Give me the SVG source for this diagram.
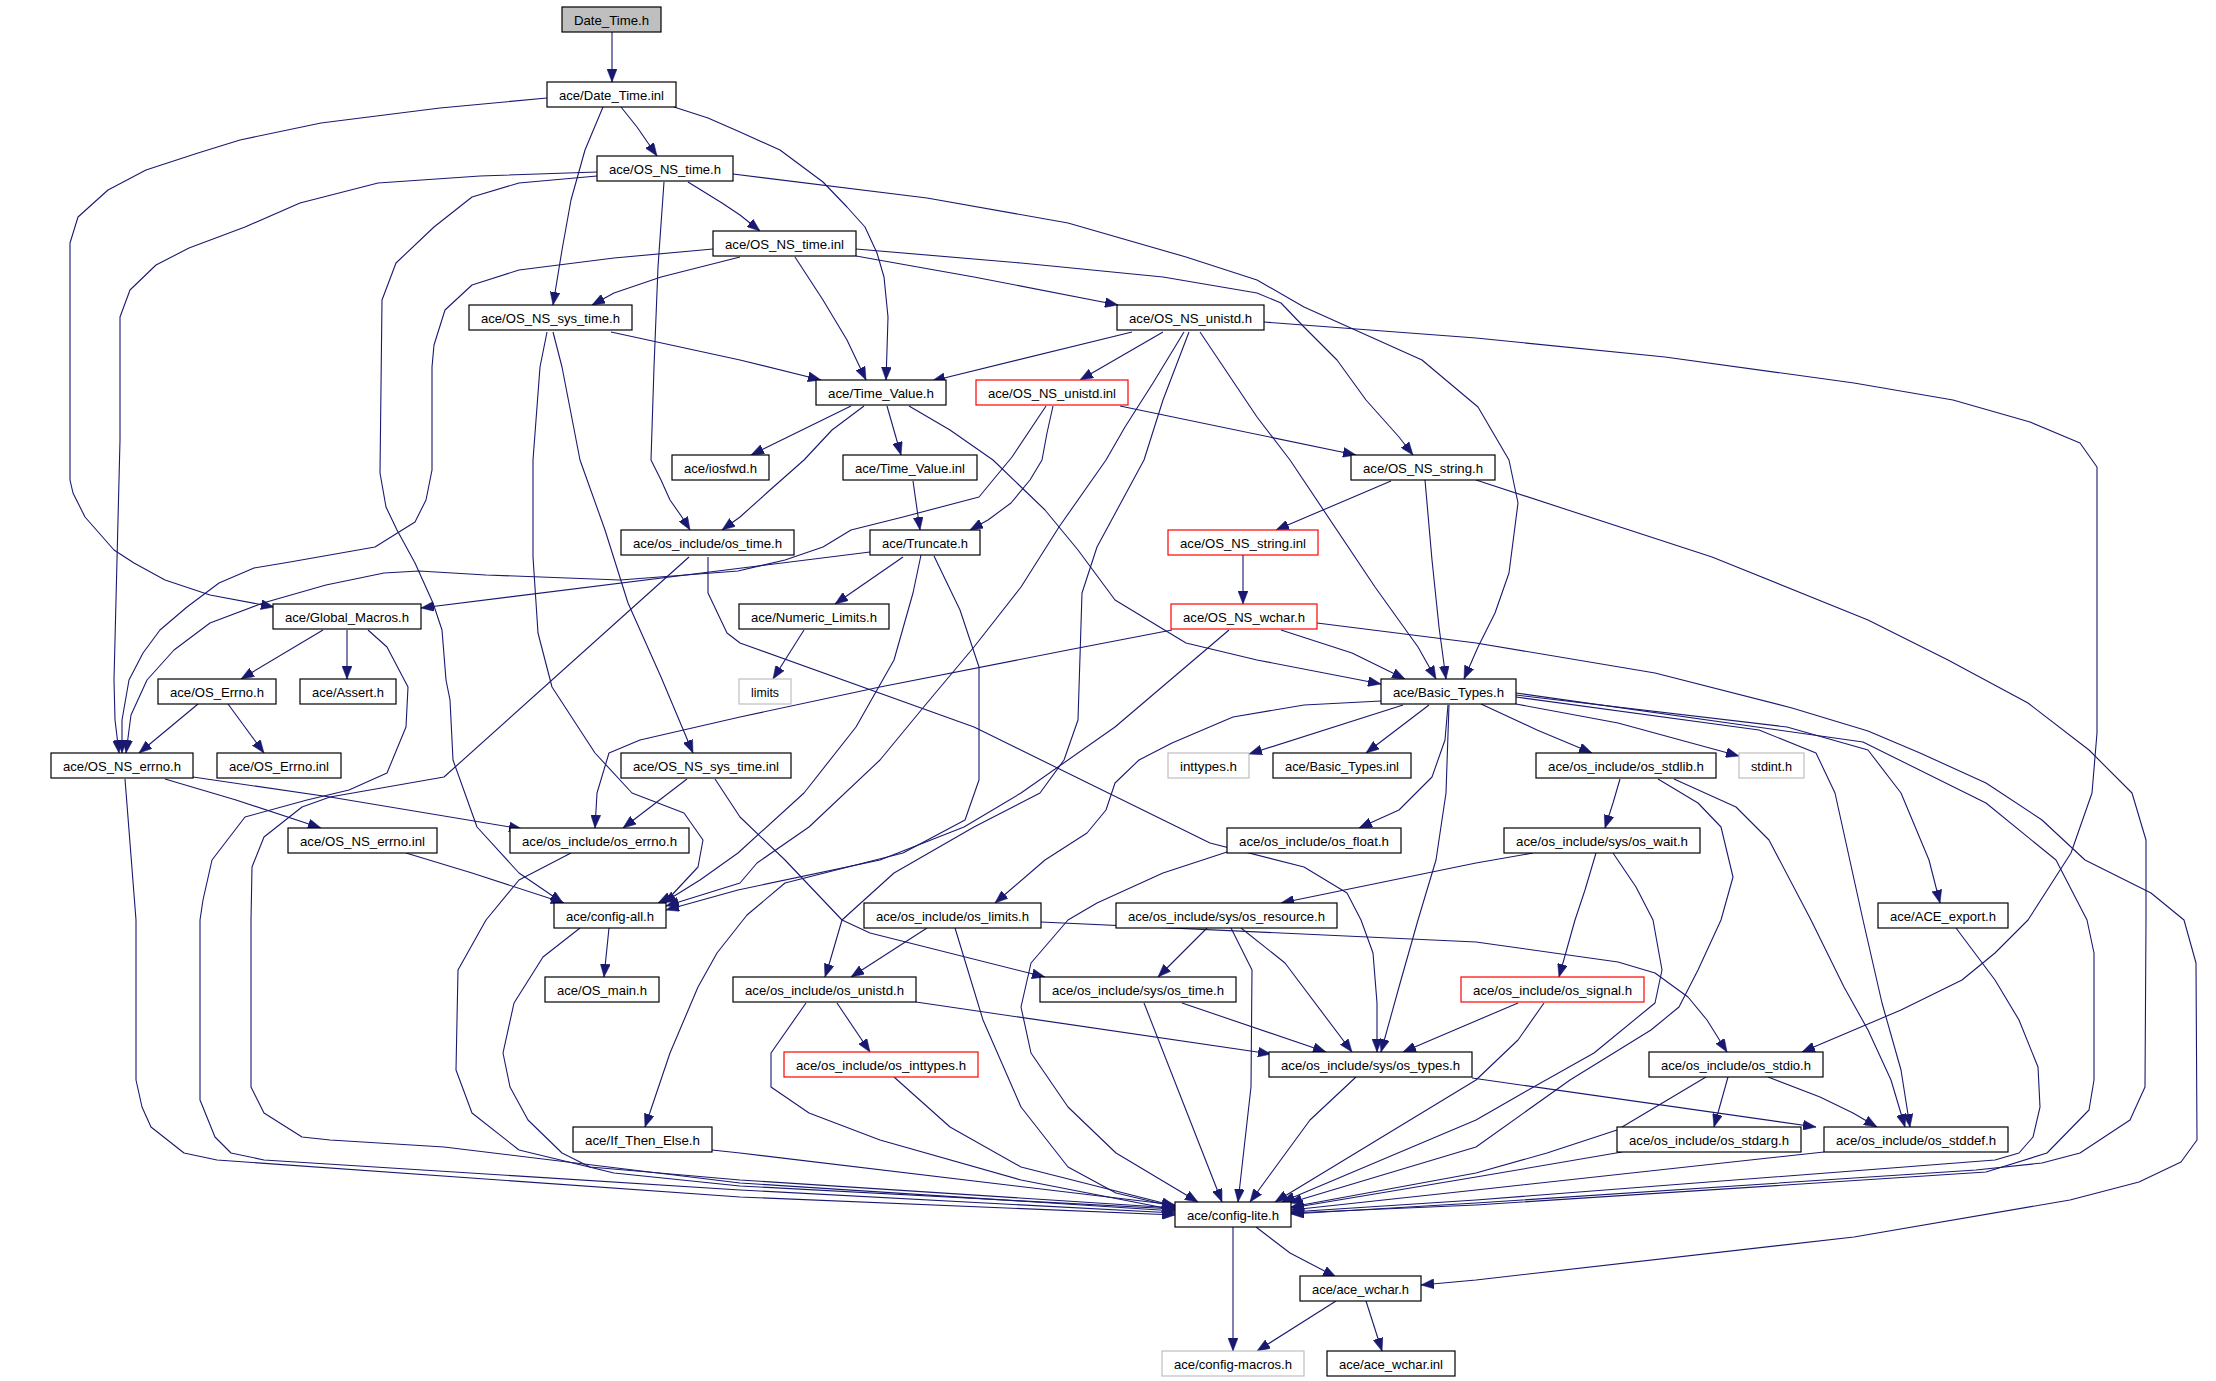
<svg xmlns="http://www.w3.org/2000/svg" width="2216" height="1381" viewBox="0 0 2216 1381">
<defs>
<style>
.node rect{fill:#ffffff;stroke:#000000;stroke-width:1.2}
.node.red rect{stroke:#ff0000}
.node.grey rect{stroke:#bfbfbf}
.node.root rect{fill:#bfbfbf}
.node text{font-family:"Liberation Sans",Arial,sans-serif;font-size:13px;fill:#000000;text-anchor:middle}
#edges path{fill:none;stroke:#191970;stroke-width:1.1;stroke-linejoin:round;marker-end:url(#arr)}
</style>
<marker id="arr" markerUnits="userSpaceOnUse" viewBox="0 0 13 10" markerWidth="13" markerHeight="10" refX="13" refY="5" orient="auto">
<path d="M0,0 L13,5 L0,10 z" fill="#191970" stroke="#191970" stroke-width="0.5"/>
</marker>
</defs>
<rect x="0" y="0" width="2216" height="1381" fill="#ffffff"/>
<g id="edges">
<path d="M612,32 L612,82"/>
<path d="M547,98 L440,108 L321,123 L240,140 L198,153 L146,170 L108,190 L78,217 L70,243 L70,480 L73,493 L85,517 L114,550 L134,563 L165,580 L210,595 L274,607"/>
<path d="M603,107 L585,150 L571,200 L562,250 L553,305"/>
<path d="M621,107 L637,127 L657,156"/>
<path d="M674,107 L708,118 L740,132 L780,150 L823,182 L847,207 L865,227 L877,253 L884,277 L888,317 L887,350 L886,380"/>
<path d="M688,182 L722,203 L740,215 L760,231"/>
<path d="M597,172 L480,176 L378,183 L300,203 L245,227 L189,248 L156,265 L130,290 L120,317 L120,440 L114,680 L115,720 L119,753"/>
<path d="M597,176 L519,183 L472,197 L434,227 L396,263 L382,300 L380,473 L386,507 L397,530 L415,563 L433,603 L442,630 L446,680 L450,700 L453,760 L477,827 L519,873 L563,903"/>
<path d="M664,182 L658,267 L654,367 L651,460 L661,480 L670,500 L684,520 L690,530"/>
<path d="M733,174 L927,198 L1068,223 L1186,257 L1257,280 L1304,307 L1422,360 L1478,407 L1509,460 L1518,503 L1509,573 L1495,613 L1478,647 L1464,679"/>
<path d="M740,257 L661,277 L614,293 L592,305"/>
<path d="M713,249 L614,258 L519,270 L472,285 L445,310 L434,345 L432,367 L432,470 L426,500 L415,522 L375,547 L290,562 L254,568 L219,583 L187,607 L160,630 L143,653 L129,680 L122,720 L122,753"/>
<path d="M795,257 L823,300 L847,340 L866,380"/>
<path d="M856,256 L974,277 L1118,305"/>
<path d="M856,249 L1021,263 L1163,277 L1257,293 L1281,303 L1304,327 L1337,360 L1366,400 L1399,437 L1413,455"/>
<path d="M611,332 L740,360 L821,380"/>
<path d="M553,332 L562,367 L580,460 L605,530 L628,603 L661,677 L693,753"/>
<path d="M547,332 L540,367 L533,460 L533,557 L538,633 L552,687 L595,753 L632,793 L684,813 L703,840 L698,867 L670,897 L658,903"/>
<path d="M1132,332 L932,381"/>
<path d="M1163,332 L1080,380"/>
<path d="M1184,332 L1153,383 L1125,427 L1106,460 L1059,527 L1021,587 L974,647 L927,703 L880,760 L809,827 L757,863 L740,883 L666,906"/>
<path d="M1189,332 L1163,400 L1144,460 L1097,547 L1082,593 L1078,720 L1064,760 L1040,793 L974,827 L894,873 L842,920 L828,968 L825,977"/>
<path d="M1200,332 L1257,417 L1290,460 L1375,587 L1418,647 L1436,679"/>
<path d="M1264,322 L1476,338 L1665,357 L1854,383 L1953,400 L2030,422 L2080,443 L2097,467 L2097,733 L2092,793 L2071,853 L2028,920 L1995,953 L1962,980 L1901,1010 L1802,1052"/>
<path d="M851,406 L751,455"/>
<path d="M864,406 L832,430 L804,460 L770,490 L740,517 L722,530"/>
<path d="M887,406 L901,455"/>
<path d="M909,406 L950,430 L993,460 L1045,510 L1078,550 L1115,600 L1186,643 L1257,660 L1381,684"/>
<path d="M1120,406 L1356,455"/>
<path d="M1053,406 L1047,433 L1042,460 L1030,480 L1011,503 L988,520 L970,530"/>
<path d="M1046,406 L1012,457 L979,497 L903,517 L851,530 L823,547 L785,560 L738,571 L620,580 L486,575 L419,571 L384,573 L326,585 L263,603 L210,623 L174,650 L147,680 L131,715 L126,753"/>
<path d="M913,481 L920,530"/>
<path d="M1391,481 L1276,530"/>
<path d="M1425,480 L1432,560 L1439,627 L1446,679"/>
<path d="M1476,480 L1712,557 L1868,620 L1948,660 L2028,703 L2089,750 L2132,793 L2146,840 L2146,920 L2145,1087 L2130,1120 L2080,1153 L2042,1163 L1976,1170 L1476,1203 L1291,1214"/>
<path d="M870,552 L421,608"/>
<path d="M903,557 L835,604"/>
<path d="M921,555 L913,593 L894,660 L856,727 L804,793 L738,853 L700,880 L663,903"/>
<path d="M934,556 L960,610 L979,667 L979,780 L965,820 L903,853 L785,883 L747,915 L717,953 L698,987 L670,1053 L645,1127"/>
<path d="M1243,555 L1243,604"/>
<path d="M804,630 L773,679"/>
<path d="M323,630 L241,679"/>
<path d="M347,630 L347,679"/>
<path d="M368,630 L387,647 L408,687 L406,727 L387,773 L349,790 L307,800 L245,817 L212,860 L203,900 L200,920 L200,1100 L215,1137 L231,1153 L264,1160 L740,1190 L1175,1213"/>
<path d="M1172,630 L1068,650 L880,687 L740,717 L640,740 L609,753 L597,793 L595,828"/>
<path d="M1229,630 L1115,727 L1021,793 L964,827 L880,860 L738,890 L666,910"/>
<path d="M1281,630 L1352,653 L1405,679"/>
<path d="M1317,623 L1476,643 L1655,673 L1792,708 L1868,731 L1920,753 L1986,783 L2042,820 L2085,860 L2151,893 L2184,920 L2196,963 L2197,1140 L2181,1162 L2139,1182 L2070,1200 L1854,1237 L1476,1280 L1421,1285"/>
<path d="M198,704 L139,753"/>
<path d="M228,704 L264,753"/>
<path d="M165,779 L236,800 L321,828"/>
<path d="M193,777 L330,797 L522,829"/>
<path d="M125,779 L136,920 L136,1080 L142,1107 L151,1127 L184,1153 L217,1160 L740,1197 L1175,1215"/>
<path d="M406,853 L472,873 L564,903"/>
<path d="M687,779 L623,828"/>
<path d="M715,779 L740,817 L785,860 L842,920 L870,933 L1045,977"/>
<path d="M689,557 L444,777 L330,797 L302,807 L264,837 L252,867 L251,920 L251,1087 L264,1113 L302,1137 L330,1140 L444,1147 L740,1183 L1175,1211"/>
<path d="M708,557 L708,593 L727,633 L740,643 L974,727 L1210,843 L1304,867 L1347,893 L1361,920 L1373,953 L1377,1003 L1377,1052"/>
<path d="M571,853 L519,880 L486,920 L458,970 L456,1070 L472,1113 L519,1150 L614,1173 L740,1186 L1175,1209"/>
<path d="M609,928 L604,977"/>
<path d="M580,928 L543,957 L514,1003 L503,1053 L510,1087 L528,1120 L562,1153 L590,1167 L740,1180 L1175,1208"/>
<path d="M712,1150 L740,1153 L1175,1205"/>
<path d="M1403,705 L1249,754"/>
<path d="M1429,705 L1366,753"/>
<path d="M1448,705 L1445,740 L1432,777 L1399,810 L1359,828"/>
<path d="M1381,701 L1304,705 L1233,717 L1172,743 L1139,760 L1115,783 L1106,810 L1087,833 L1045,860 L995,903"/>
<path d="M1449,705 L1446,793 L1436,860 L1418,920 L1399,987 L1381,1052"/>
<path d="M1481,704 L1537,730 L1592,753"/>
<path d="M1516,704 L1618,723 L1739,756"/>
<path d="M1516,697 L1759,730 L1816,753 L1835,793 L1863,920 L1882,1003 L1901,1070 L1910,1127"/>
<path d="M1516,695 L1787,727 L1868,750 L1901,793 L1929,860 L1940,903"/>
<path d="M1516,693 L1863,742 L1986,803 L2056,860 L2087,920 L2094,953 L2094,1080 L2089,1110 L2047,1153 L1986,1172 L1476,1205 L1291,1213"/>
<path d="M1620,779 L1613,803 L1605,828"/>
<path d="M1658,779 L1698,803 L1721,827 L1733,877 L1721,920 L1698,970 L1679,1007 L1651,1030 L1570,1080 L1476,1147 L1289,1203"/>
<path d="M1674,779 L1736,807 L1769,840 L1811,920 L1844,987 L1868,1030 L1891,1080 L1905,1127"/>
<path d="M1533,853 L1476,863 L1281,903"/>
<path d="M1596,853 L1585,890 L1575,920 L1559,977"/>
<path d="M1613,853 L1636,887 L1653,920 L1662,970 L1655,1003 L1594,1053 L1523,1093 L1476,1120 L1282,1202"/>
<path d="M1227,852 L1163,873 L1097,903 L1068,920 L1031,963 L1021,1007 L1031,1053 L1068,1107 L1116,1153 L1198,1202"/>
<path d="M927,928 L851,977"/>
<path d="M1041,922 L1476,942 L1618,962 L1655,973 L1688,997 L1707,1020 L1727,1052"/>
<path d="M955,928 L983,1020 L1021,1107 L1068,1167 L1116,1193 L1175,1207"/>
<path d="M1207,928 L1158,977"/>
<path d="M1231,928 L1252,970 L1251,1087 L1238,1202"/>
<path d="M1241,928 L1285,963 L1352,1052"/>
<path d="M1956,928 L1995,980 L2019,1020 L2038,1067 L2040,1107 L2033,1137 L2019,1153 L1995,1160 L1476,1200 L1291,1212"/>
<path d="M837,1003 L870,1052"/>
<path d="M916,1002 L1271,1054"/>
<path d="M806,1003 L771,1053 L771,1087 L809,1113 L880,1140 L1021,1180 L1175,1210"/>
<path d="M1182,1003 L1326,1052"/>
<path d="M1144,1003 L1222,1202"/>
<path d="M1518,1003 L1478,1020 L1403,1052"/>
<path d="M1544,1003 L1518,1040 L1476,1080 L1275,1202"/>
<path d="M894,1077 L950,1127 L1021,1167 L1175,1206"/>
<path d="M1472,1078 L1816,1127"/>
<path d="M1356,1077 L1310,1120 L1250,1202"/>
<path d="M1728,1077 L1714,1127"/>
<path d="M1768,1077 L1820,1097 L1853,1113 L1877,1127"/>
<path d="M1706,1077 L1617,1130 L1547,1153 L1476,1173 L1291,1207"/>
<path d="M1622,1152 L1476,1177 L1291,1208"/>
<path d="M1824,1152 L1476,1190 L1291,1210"/>
<path d="M1256,1227 L1290,1253 L1336,1277"/>
<path d="M1233,1227 L1233,1351"/>
<path d="M1336,1301 L1257,1351"/>
<path d="M1366,1301 L1382,1351"/>
</g>
<g id="n0" class="node root"><rect x="562" y="7" width="99" height="25"/><text x="611.5" y="24.5" textLength="75" lengthAdjust="spacingAndGlyphs">Date_Time.h</text></g>
<g id="n1" class="node"><rect x="547" y="82" width="129" height="25"/><text x="611.5" y="99.5" textLength="105" lengthAdjust="spacingAndGlyphs">ace/Date_Time.inl</text></g>
<g id="n2" class="node"><rect x="597" y="156" width="136" height="25"/><text x="665" y="173.5" textLength="112" lengthAdjust="spacingAndGlyphs">ace/OS_NS_time.h</text></g>
<g id="n3" class="node"><rect x="713" y="231" width="143" height="25"/><text x="784.5" y="248.5" textLength="119" lengthAdjust="spacingAndGlyphs">ace/OS_NS_time.inl</text></g>
<g id="n4" class="node"><rect x="469" y="305" width="163" height="25"/><text x="550.5" y="322.5" textLength="139" lengthAdjust="spacingAndGlyphs">ace/OS_NS_sys_time.h</text></g>
<g id="n5" class="node"><rect x="1117" y="305" width="147" height="25"/><text x="1190.5" y="322.5" textLength="123" lengthAdjust="spacingAndGlyphs">ace/OS_NS_unistd.h</text></g>
<g id="n6" class="node"><rect x="816" y="380" width="130" height="25"/><text x="881" y="397.5" textLength="106" lengthAdjust="spacingAndGlyphs">ace/Time_Value.h</text></g>
<g id="n7" class="node red"><rect x="976" y="380" width="152" height="25"/><text x="1052" y="397.5" textLength="128" lengthAdjust="spacingAndGlyphs">ace/OS_NS_unistd.inl</text></g>
<g id="n8" class="node"><rect x="672" y="455" width="97" height="25"/><text x="720.5" y="472.5" textLength="73" lengthAdjust="spacingAndGlyphs">ace/iosfwd.h</text></g>
<g id="n9" class="node"><rect x="843" y="455" width="134" height="25"/><text x="910" y="472.5" textLength="110" lengthAdjust="spacingAndGlyphs">ace/Time_Value.inl</text></g>
<g id="n10" class="node"><rect x="1351" y="455" width="144" height="25"/><text x="1423" y="472.5" textLength="120" lengthAdjust="spacingAndGlyphs">ace/OS_NS_string.h</text></g>
<g id="n11" class="node"><rect x="621" y="530" width="173" height="25"/><text x="707.5" y="547.5" textLength="149" lengthAdjust="spacingAndGlyphs">ace/os_include/os_time.h</text></g>
<g id="n12" class="node"><rect x="870" y="530" width="110" height="25"/><text x="925" y="547.5" textLength="86" lengthAdjust="spacingAndGlyphs">ace/Truncate.h</text></g>
<g id="n13" class="node red"><rect x="1168" y="530" width="150" height="25"/><text x="1243" y="547.5" textLength="126" lengthAdjust="spacingAndGlyphs">ace/OS_NS_string.inl</text></g>
<g id="n14" class="node"><rect x="273" y="604" width="148" height="25"/><text x="347" y="621.5" textLength="124" lengthAdjust="spacingAndGlyphs">ace/Global_Macros.h</text></g>
<g id="n15" class="node"><rect x="739" y="604" width="150" height="25"/><text x="814" y="621.5" textLength="126" lengthAdjust="spacingAndGlyphs">ace/Numeric_Limits.h</text></g>
<g id="n16" class="node red"><rect x="1171" y="604" width="146" height="25"/><text x="1244" y="621.5" textLength="122" lengthAdjust="spacingAndGlyphs">ace/OS_NS_wchar.h</text></g>
<g id="n17" class="node"><rect x="158" y="679" width="118" height="25"/><text x="217" y="696.5" textLength="94" lengthAdjust="spacingAndGlyphs">ace/OS_Errno.h</text></g>
<g id="n18" class="node"><rect x="300" y="679" width="96" height="25"/><text x="348" y="696.5" textLength="72" lengthAdjust="spacingAndGlyphs">ace/Assert.h</text></g>
<g id="n19" class="node grey"><rect x="739" y="679" width="52" height="25"/><text x="765" y="696.5" textLength="28" lengthAdjust="spacingAndGlyphs">limits</text></g>
<g id="n20" class="node"><rect x="1381" y="679" width="135" height="25"/><text x="1448.5" y="696.5" textLength="111" lengthAdjust="spacingAndGlyphs">ace/Basic_Types.h</text></g>
<g id="n21" class="node"><rect x="51" y="753" width="142" height="25"/><text x="122" y="770.5" textLength="118" lengthAdjust="spacingAndGlyphs">ace/OS_NS_errno.h</text></g>
<g id="n22" class="node"><rect x="217" y="753" width="124" height="25"/><text x="279" y="770.5" textLength="100" lengthAdjust="spacingAndGlyphs">ace/OS_Errno.inl</text></g>
<g id="n23" class="node"><rect x="621" y="753" width="170" height="25"/><text x="706" y="770.5" textLength="146" lengthAdjust="spacingAndGlyphs">ace/OS_NS_sys_time.inl</text></g>
<g id="n24" class="node grey"><rect x="1168" y="753" width="81" height="25"/><text x="1208.5" y="770.5" textLength="57" lengthAdjust="spacingAndGlyphs">inttypes.h</text></g>
<g id="n25" class="node"><rect x="1273" y="753" width="138" height="25"/><text x="1342" y="770.5" textLength="114" lengthAdjust="spacingAndGlyphs">ace/Basic_Types.inl</text></g>
<g id="n26" class="node"><rect x="1536" y="753" width="180" height="25"/><text x="1626" y="770.5" textLength="156" lengthAdjust="spacingAndGlyphs">ace/os_include/os_stdlib.h</text></g>
<g id="n27" class="node grey"><rect x="1739" y="753" width="65" height="25"/><text x="1771.5" y="770.5" textLength="41" lengthAdjust="spacingAndGlyphs">stdint.h</text></g>
<g id="n28" class="node"><rect x="288" y="828" width="149" height="25"/><text x="362.5" y="845.5" textLength="125" lengthAdjust="spacingAndGlyphs">ace/OS_NS_errno.inl</text></g>
<g id="n29" class="node"><rect x="510" y="828" width="179" height="25"/><text x="599.5" y="845.5" textLength="155" lengthAdjust="spacingAndGlyphs">ace/os_include/os_errno.h</text></g>
<g id="n30" class="node"><rect x="1227" y="828" width="174" height="25"/><text x="1314" y="845.5" textLength="150" lengthAdjust="spacingAndGlyphs">ace/os_include/os_float.h</text></g>
<g id="n31" class="node"><rect x="1504" y="828" width="196" height="25"/><text x="1602" y="845.5" textLength="172" lengthAdjust="spacingAndGlyphs">ace/os_include/sys/os_wait.h</text></g>
<g id="n32" class="node"><rect x="554" y="903" width="112" height="25"/><text x="610" y="920.5" textLength="88" lengthAdjust="spacingAndGlyphs">ace/config-all.h</text></g>
<g id="n33" class="node"><rect x="864" y="903" width="177" height="25"/><text x="952.5" y="920.5" textLength="153" lengthAdjust="spacingAndGlyphs">ace/os_include/os_limits.h</text></g>
<g id="n34" class="node"><rect x="1116" y="903" width="221" height="25"/><text x="1226.5" y="920.5" textLength="197" lengthAdjust="spacingAndGlyphs">ace/os_include/sys/os_resource.h</text></g>
<g id="n35" class="node"><rect x="1878" y="903" width="130" height="25"/><text x="1943" y="920.5" textLength="106" lengthAdjust="spacingAndGlyphs">ace/ACE_export.h</text></g>
<g id="n36" class="node"><rect x="545" y="977" width="114" height="25"/><text x="602" y="994.5" textLength="90" lengthAdjust="spacingAndGlyphs">ace/OS_main.h</text></g>
<g id="n37" class="node"><rect x="733" y="977" width="183" height="25"/><text x="824.5" y="994.5" textLength="159" lengthAdjust="spacingAndGlyphs">ace/os_include/os_unistd.h</text></g>
<g id="n38" class="node"><rect x="1040" y="977" width="196" height="25"/><text x="1138" y="994.5" textLength="172" lengthAdjust="spacingAndGlyphs">ace/os_include/sys/os_time.h</text></g>
<g id="n39" class="node red"><rect x="1461" y="977" width="183" height="25"/><text x="1552.5" y="994.5" textLength="159" lengthAdjust="spacingAndGlyphs">ace/os_include/os_signal.h</text></g>
<g id="n40" class="node red"><rect x="784" y="1052" width="194" height="25"/><text x="881" y="1069.5" textLength="170" lengthAdjust="spacingAndGlyphs">ace/os_include/os_inttypes.h</text></g>
<g id="n41" class="node"><rect x="1269" y="1052" width="203" height="25"/><text x="1370.5" y="1069.5" textLength="179" lengthAdjust="spacingAndGlyphs">ace/os_include/sys/os_types.h</text></g>
<g id="n42" class="node"><rect x="1649" y="1052" width="174" height="25"/><text x="1736" y="1069.5" textLength="150" lengthAdjust="spacingAndGlyphs">ace/os_include/os_stdio.h</text></g>
<g id="n43" class="node"><rect x="573" y="1127" width="139" height="25"/><text x="642.5" y="1144.5" textLength="115" lengthAdjust="spacingAndGlyphs">ace/If_Then_Else.h</text></g>
<g id="n44" class="node"><rect x="1617" y="1127" width="184" height="25"/><text x="1709" y="1144.5" textLength="160" lengthAdjust="spacingAndGlyphs">ace/os_include/os_stdarg.h</text></g>
<g id="n45" class="node"><rect x="1824" y="1127" width="184" height="25"/><text x="1916" y="1144.5" textLength="160" lengthAdjust="spacingAndGlyphs">ace/os_include/os_stddef.h</text></g>
<g id="n46" class="node"><rect x="1175" y="1202" width="116" height="25"/><text x="1233" y="1219.5" textLength="92" lengthAdjust="spacingAndGlyphs">ace/config-lite.h</text></g>
<g id="n47" class="node"><rect x="1300" y="1276" width="121" height="25"/><text x="1360.5" y="1293.5" textLength="97" lengthAdjust="spacingAndGlyphs">ace/ace_wchar.h</text></g>
<g id="n48" class="node grey"><rect x="1162" y="1351" width="142" height="25"/><text x="1233" y="1368.5" textLength="118" lengthAdjust="spacingAndGlyphs">ace/config-macros.h</text></g>
<g id="n49" class="node"><rect x="1327" y="1351" width="128" height="25"/><text x="1391" y="1368.5" textLength="104" lengthAdjust="spacingAndGlyphs">ace/ace_wchar.inl</text></g>
</svg>
